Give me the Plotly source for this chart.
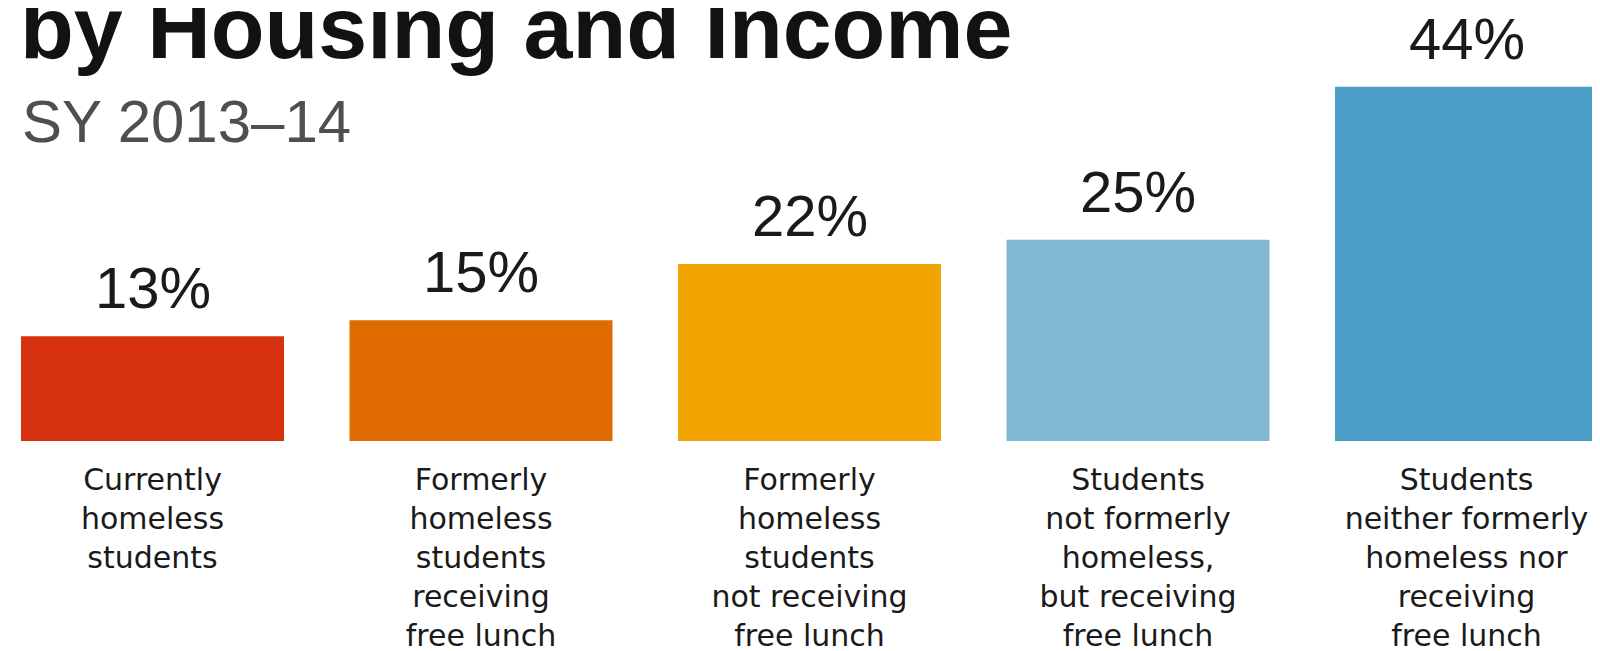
import plotly.graph_objects as go

categories = [
    "Currently<br>homeless<br>students",
    "Formerly<br>homeless<br>students<br>receiving<br>free lunch",
    "Formerly<br>homeless<br>students<br>not receiving<br>free lunch",
    "Students<br>not formerly<br>homeless,<br>but receiving<br>free lunch",
    "Students<br>neither formerly<br>homeless nor<br>receiving<br>free lunch",
]
values = [13, 15, 22, 25, 44]
value_labels = ["13%", "15%", "22%", "25%", "44%"]
colors = ["#D7320F", "#E06B00", "#F2A500", "#82B8D4", "#4A9EC7"]

title_text = "by Housing and Income"
subtitle_text = "SY 2013\u201314"

W, H = 1600, 651
plot_h = 433
xs = list(range(len(categories)))

fig = go.Figure()
fig.add_trace(go.Bar(
    x=xs, y=values, width=0.8006,
    marker=dict(color=colors, line=dict(width=0)),
    hoverinfo="skip", showlegend=False,
))

for i, (v, lab) in enumerate(zip(values, value_labels)):
    fig.add_annotation(
        x=i, y=v, xref="x", yref="y", text=lab, showarrow=False,
        xanchor="center", yanchor="bottom", yshift=14,
        font=dict(family="Liberation Sans, Arial, sans-serif", size=58, color="#1a1a1a"),
    )

fig.add_annotation(
    x=10 / W, y=1 - 71 / plot_h, xref="paper", yref="paper",
    text="<b>" + title_text + "</b>", showarrow=False,
    xanchor="left", yanchor="bottom",
    font=dict(family="Liberation Sans, Arial, sans-serif", size=88, color="#141210"),
)
fig.add_annotation(
    x=12 / W, y=1 - 149 / plot_h, xref="paper", yref="paper",
    text=subtitle_text, showarrow=False,
    xanchor="left", yanchor="bottom",
    font=dict(family="Liberation Sans, Arial, sans-serif", size=60, color="#4f4f4f"),
)

fig.update_layout(
    width=W, height=H,
    margin=dict(l=0, r=0, t=0, b=H - plot_h),
    paper_bgcolor="white", plot_bgcolor="white",
    xaxis=dict(
        range=[-0.4399, 4.4307], tickvals=xs, ticktext=categories,
        showgrid=False, zeroline=False, showline=False, ticks="",
        tickfont=dict(family="DejaVu Sans, sans-serif", size=30, color="#1a1a1a"),
        ticklabelstandoff=18, fixedrange=True,
    ),
    yaxis=dict(
        range=[0, plot_h / 8.05], visible=False, showgrid=False, zeroline=False,
        fixedrange=True,
    ),
)

fig.write_html("out.html")
